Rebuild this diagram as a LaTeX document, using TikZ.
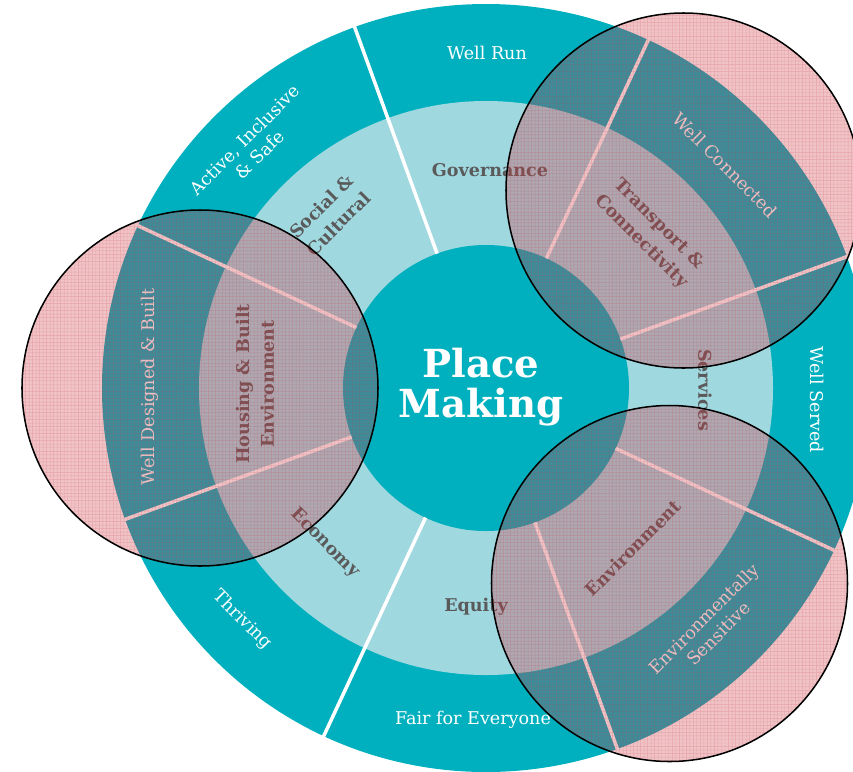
\documentclass[tikz,border=0pt]{standalone}
\usepackage{fontspec}
\setmainfont{DejaVu Serif}
\usetikzlibrary{patterns}
\definecolor{wheelteal}{RGB}{0,176,190}
\definecolor{wheellight}{RGB}{160,216,224}
\definecolor{labelgrey}{RGB}{90,90,90}
\definecolor{spotred}{RGB}{205,60,70}

\begin{document}
\begin{tikzpicture}[x=0.03cm, y=0.03cm,
		outerlabel/.style={text=white, font=\fontsize{15}{18}\selectfont, align=center},
		midlabel/.style={text=labelgrey, font=\fontsize{15}{21}\selectfont\bfseries, align=center},
		divider/.style={white, line width=3pt},
		spotfill/.style={fill=spotred, fill opacity=0.3},
		spotgrid/.style={pattern=grid, pattern color=spotred},
		spotline/.style={draw=black, line width=1.3pt}]
		\useasboundingbox (-486, -383) rectangle (367, 388);
		\clip (-486, -383) rectangle (367, 388);
		
		\fill[wheelteal] (0, 0) circle [radius=384];
		\fill[wheellight] (0, 0) circle [radius=287];
		\fill[wheelteal] (0, 0) circle [radius=143];
		
		\draw[divider] (110:143) -- (110:395);
		\draw[divider] (65:143) -- (65:395);
		\draw[divider] (20:143) -- (20:395);
		\draw[divider] (-25:143) -- (-25:395);
		\draw[divider] (-70:143) -- (-70:395);
		\draw[divider] (-115:143) -- (-115:395);
		\draw[divider] (-160:143) -- (-160:395);
		\draw[divider] (155:143) -- (155:395);
		
		\node[text=white, font=\fontsize{33}{34}\selectfont\bfseries, align=center] (place) at (-5, 1) {Place\\Making};
		
		\node[outerlabel] (wellrun) at (1, 335) {Well Run};
		\node[outerlabel, rotate=-45] (wellconn) at (239, 223) {Well Connected};
		\node[outerlabel, rotate=-90] (wellserved) at (331, -12) {Well Served};
		\node[outerlabel, rotate=45] (envsens) at (225, -238) {Environmentally\\Sensitive};
		\node[outerlabel] (fair) at (-13, -332) {Fair for Everyone};
		\node[outerlabel, rotate=-45] (thriving) at (-244, -232) {Thriving};
		\node[outerlabel, rotate=90] (welldesign) at (-336, 1) {Well Designed \& Built};
		\node[outerlabel, rotate=45] (active) at (-234, 241) {Active, Inclusive\\\& Safe};
		
		\node[midlabel] (governance) at (4, 218) {Governance};
		\node[midlabel, rotate=-45] (transport) at (164, 155) {Transport \&\\Connectivity};
		\node[midlabel, rotate=-90] (services) at (219, -2) {Services};
		\node[midlabel, rotate=45] (environment) at (147, -160) {Environment};
		\node[midlabel] (equity) at (-10, -219) {Equity};
		\node[midlabel, rotate=-45] (economy) at (-161, -155) {Economy};
		\node[midlabel, rotate=90] (housing) at (-231, 4) {Housing \& Built\\Environment};
		\node[midlabel, rotate=45] (social) at (-156, 173) {Social \&\\Cultural};
		
		\fill[spotfill] (-286, 0) circle [radius=178];
		\fill[spotfill] (197.5, 197.5) circle [radius=177.5];
		\fill[spotfill] (183.5, -195.5) circle [radius=178];
		\begin{scope}[transparency group, opacity=0.25]
			\fill[spotgrid] (-286, 0) circle [radius=178];
			\fill[spotgrid] (197.5, 197.5) circle [radius=177.5];
			\fill[spotgrid] (183.5, -195.5) circle [radius=178];
		\end{scope}
		\draw[spotline] (-286, 0) circle [radius=178];
		\draw[spotline] (197.5, 197.5) circle [radius=177.5];
		\draw[spotline] (183.5, -195.5) circle [radius=178];
	\end{tikzpicture}
\end{document}
